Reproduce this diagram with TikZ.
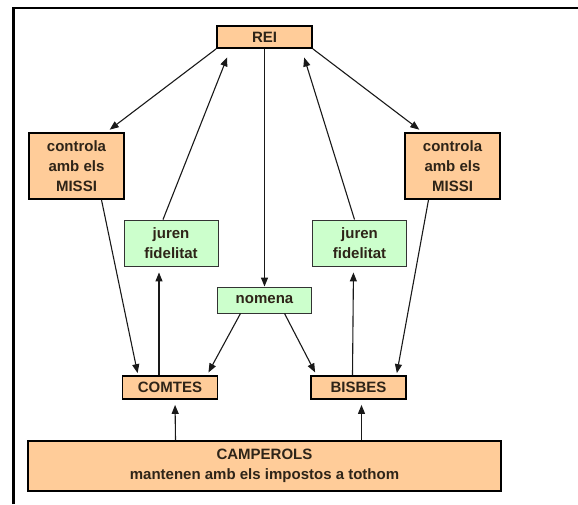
\documentclass[tikz,border=0pt]{standalone}
\usepackage{fontspec}
\setmainfont{Liberation Sans}
\usepackage{tikz}
\usetikzlibrary{arrows.meta, positioning}
\definecolor{peach}{HTML}{FFCC99}
\definecolor{mint}{HTML}{CCFFCC}
\definecolor{ink}{HTML}{2E2418}
\tikzset{
    rank/.style={
        rectangle,
        draw=black,
        line width=1.8pt,
        minimum width=95pt,
        fill=peach,
        text=ink,
        align=center,
        inner sep=1pt,
        font=\fontsize{15}{20}\selectfont\bfseries
    },
    action/.style={
        rectangle,
        draw=black!80,
        line width=0.9pt,
        minimum width=94pt,
        fill=mint,
        text=ink,
        align=center,
        inner sep=1pt,
        font=\fontsize{15}{20}\selectfont\bfseries
    },
    link/.style={
        draw=black!90,
        line width=1.1pt,
        -{Triangle[length=9pt,width=7pt]}
    },
    frame/.style={
        draw=black,
        line width=2.8pt
    }
}
\begin{document}
\begin{tikzpicture}[x=1pt, y=-1pt]
\useasboundingbox (0,0) rectangle (578,504);

% Frame
\draw[frame] (13.5,504) -- (13.5,8) -- (578,8);

% King
\node[rank, minimum height=22pt] (rei) at (264.5,37) {REI};

% Missi
\node[rank, minimum height=66pt] (missi_l) at (76.5,166) {controla\\amb els\\MISSI};
\node[rank, minimum height=66pt] (missi_r) at (452.5,166) {controla\\amb els\\MISSI};

% Oaths
\node[action, minimum height=46pt] (juren_l) at (171,243) {juren\\fidelitat};
\node[action, minimum height=46pt] (juren_r) at (359.5,243) {juren\\fidelitat};
\node[action, minimum height=26pt] (nomena) at (264.5,300) {nomena};

% Nobles and clergy
\node[rank, minimum height=23pt] (comtes) at (170,387.5) {COMTES};
\node[rank, minimum height=23pt] (bisbes) at (358.5,387.5) {BISBES};

% Peasants
\node[rank, minimum width=473pt, minimum height=50pt] (camperols) at (264.5,466) {CAMPEROLS\\mantenen amb els impostos a tothom};

% Connections
\draw[link, shorten >=4pt] (rei.south west) -- ([xshift=30pt]missi_l.north);
\draw[link, shorten >=4pt] (rei.south east) -- ([xshift=-30pt]missi_r.north);
\draw[link, shorten >=9pt] ([xshift=-8pt]juren_l.north) -- ([xshift=-34pt]rei.south);
\draw[link, shorten >=9pt] ([xshift=-5pt]juren_r.north) -- ([xshift=37pt]rei.south);
\draw[link] (rei.south) -- (nomena.north);
\draw[link, shorten >=2pt] ([xshift=25pt]missi_l.south) -- ([xshift=-32pt]comtes.north);
\draw[link, shorten >=2pt] ([xshift=-24pt]missi_r.south) -- ([xshift=38pt]bisbes.north);
\draw[link, shorten >=6pt] ([xshift=-11pt]comtes.north) -- ([xshift=-12pt]juren_l.south);
\draw[link, shorten >=6pt] ([xshift=-6pt]bisbes.north) -- ([xshift=-6pt]juren_r.south);
\draw[link, shorten >=3pt] ([xshift=-24pt]nomena.south) -- ([xshift=37pt]comtes.north);
\draw[link, shorten >=3pt] ([xshift=20pt]nomena.south) -- ([xshift=-42pt]bisbes.north);
\draw[link, shorten >=5pt] ([xshift=-89pt]camperols.north) -- ([xshift=5pt]comtes.south);
\draw[link, shorten >=5pt] ([xshift=97pt]camperols.north) -- ([xshift=3pt]bisbes.south);

\end{tikzpicture}
\end{document}
